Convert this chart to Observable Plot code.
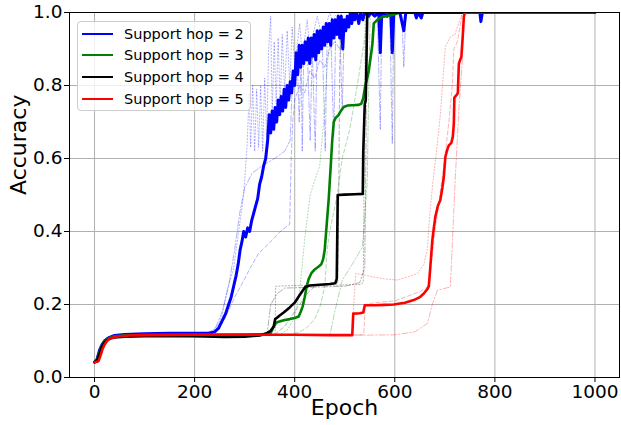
<!DOCTYPE html>
<html><head><meta charset="utf-8">
<script src="https://cdn.jsdelivr.net/npm/d3@7"></script>
<script src="https://cdn.jsdelivr.net/npm/@observablehq/plot@0.6"></script>
<style>
body{margin:0;background:#fff;font-family:"DejaVu Sans",sans-serif;}
#wrap{position:relative;width:621px;height:425px;}
#legend{position:absolute;left:77px;top:21px;width:174px;height:90px;border:1px solid #cccccc;border-radius:4px;background:rgba(255,255,255,0.8);box-sizing:border-box;}
.item{position:absolute;left:0;height:20px;width:170px;}
.item .sw{position:absolute;left:4px;top:9px;width:31px;height:0;border-top:2.6px solid;}
.item .lb{position:absolute;left:46px;top:0;font-size:14.5px;line-height:20px;color:#000;white-space:nowrap;}
</style>
</head><body>
<div id="wrap"><div id="chart"></div><div id="legend"></div></div>
<script>
// ---- data ----
const xTicks = [0, 200, 400, 600, 800, 1000];
const yTicks = [0, 0.2, 0.4, 0.6, 0.8, 1.0];
const legendLabels = ["Support hop = 2", "Support hop = 3", "Support hop = 4", "Support hop = 5"];
const colors = ["#0000ff", "#008000", "#000000", "#ff0000"];

const startRise = [[0,0.042],[5,0.046],[10,0.068],[15,0.086],[20,0.097],[25,0.103],[30,0.107],[40,0.111],[60,0.114],[100,0.116]];

// hop = 2 (blue)
const hop2Main = [[0,0.042],[5,0.05],[10,0.075],[15,0.09],[20,0.1],[25,0.106],[30,0.11],[40,0.115],[60,0.118],[100,0.12],[150,0.121],[200,0.121],[230,0.122],[240,0.125],[248,0.135],[255,0.155],[262,0.175],[268,0.2],[273,0.22],[278,0.25],[283,0.28],[287,0.31],[291,0.35],[295,0.375],[298,0.4],[302,0.385],[306,0.41],[310,0.4],[314,0.43],[318,0.45],[322,0.47],[326,0.49],[330,0.53],[334,0.55],[338,0.58],[342,0.6],[346,0.65],[349,0.72],[352,0.67],[355,0.73],[358,0.68],[361,0.74],[364,0.7],[367,0.76],[370,0.72],[373,0.77],[376,0.73],[379,0.79],[382,0.74],[385,0.8],[388,0.76],[391,0.81],[394,0.78],[397,0.84],[400,0.8],[403,0.89],[406,0.83],[409,0.91],[412,0.85],[415,0.91],[418,0.86],[421,0.92],[424,0.87],[427,0.93],[430,0.86],[433,0.93],[436,0.88],[439,0.94],[442,0.87],[445,0.95],[448,0.89],[451,0.95],[454,0.9],[457,0.96],[460,0.91],[463,0.97],[466,0.92],[469,0.97],[472,0.91],[475,0.98],[478,0.93],[481,0.98],[484,0.94],[487,0.99],[490,0.93],[493,0.99],[496,0.9],[499,0.98],[502,0.95],[505,0.99],[508,0.96],[511,1.0],[514,0.97],[517,1.0],[520,0.98],[524,1.0],[528,0.97],[532,1.0],[536,0.98],[540,1.0],[548,0.99],[552,1.0],[560,0.99],[568,1.0],[571,0.89],[574,1.0],[585,0.99],[592,1.0],[595,0.89],[598,1.0],[610,1.0],[618,0.95],[622,1.0],[640,1.0],[643,0.985],[646,1.0],[653,0.985],[656,1.0],[770,1.0],[772,0.975],[775,1.0],[1000,1.0]];
const hop2SeedA = [[200,0.121],[230,0.123],[245,0.14],[255,0.17],[265,0.24],[278,0.3],[290,0.42],[298,0.5],[305,0.64],[309,0.78],[312,0.63],[316,0.8],[320,0.62],[324,0.79],[328,0.63],[332,0.8],[336,0.62],[340,0.82],[344,0.66],[348,0.9],[352,0.99],[355,0.72],[359,0.92],[363,0.75],[367,0.93],[371,0.74],[375,0.94],[380,0.78],[385,0.95],[390,0.8],[395,0.96],[400,0.85],[410,0.97],[415,0.88],[425,0.98],[430,0.9],[445,0.99],[455,0.93],[470,1.0],[480,0.96],[490,1.0],[1000,1.0]];
const hop2SeedB = [[230,0.121],[245,0.13],[260,0.16],[280,0.22],[300,0.27],[311,0.3],[328,0.34],[355,0.376],[371,0.4],[390,0.42],[393,0.6],[396,0.7],[400,0.76],[410,0.8],[420,0.78],[430,0.84],[440,0.82],[450,0.87],[460,0.85],[470,0.9],[480,0.92],[490,0.9],[500,0.95],[510,0.97],[520,0.99],[535,1.0],[1000,1.0]];
const hop2SeedC = [[220,0.121],[240,0.13],[255,0.18],[268,0.25],[280,0.35],[290,0.45],[300,0.52],[315,0.56],[335,0.58],[360,0.6],[380,0.62],[391,0.65],[395,0.8],[400,0.86],[405,0.88],[409,0.7],[413,0.88],[415,0.62],[418,0.89],[425,0.9],[431,0.65],[435,0.91],[441,0.62],[445,0.92],[455,0.93],[461,0.62],[465,0.94],[472,0.95],[478,0.66],[482,0.95],[490,0.96],[495,0.73],[499,0.97],[510,0.98],[525,0.99],[545,1.0],[565,1.0],[571,0.68],[574,1.0],[590,1.0],[595,0.64],[598,1.0],[614,1.0],[618,0.85],[622,1.0],[1000,1.0]];

// hop = 3 (green)
const hop3Main = [[0,0.042],[5,0.048],[10,0.07],[15,0.088],[20,0.098],[25,0.104],[30,0.108],[40,0.113],[60,0.115],[100,0.116],[200,0.117],[300,0.118],[345,0.119],[352,0.122],[358,0.139],[363,0.15],[368,0.153],[378,0.157],[390,0.16],[400,0.163],[408,0.167],[412,0.18],[416,0.195],[420,0.22],[424,0.25],[428,0.27],[433,0.285],[440,0.296],[448,0.304],[453,0.31],[457,0.325],[460,0.35],[464,0.42],[468,0.49],[472,0.58],[475,0.65],[478,0.7],[482,0.712],[487,0.718],[492,0.73],[498,0.741],[505,0.745],[515,0.746],[528,0.747],[533,0.75],[537,0.765],[541,0.8],[545,0.82],[548,0.84],[552,0.88],[555,0.91],[558,0.97],[565,0.98],[575,0.988],[595,0.993],[610,1.0],[1000,1.0]];
const hop3SeedA = [[200,0.117],[370,0.118],[385,0.13],[398,0.16],[405,0.2],[411,0.25],[420,0.38],[431,0.5],[440,0.54],[450,0.58],[458,0.7],[465,0.85],[472,0.95],[480,0.99],[490,1.0],[1000,1.0]];
const hop3SeedB = [[200,0.116],[390,0.117],[410,0.125],[425,0.137],[440,0.16],[452,0.2],[460,0.25],[465,0.35],[470,0.4],[485,0.5],[495,0.6],[510,0.68],[525,0.8],[540,0.93],[548,1.0],[1000,1.0]];
const hop3SeedC = [[200,0.115],[465,0.117],[471,0.12],[480,0.18],[495,0.267],[515,0.31],[535,0.357],[538,0.4],[545,0.54],[548,0.8],[551,1.0],[1000,1.0]];

// hop = 4 (black)
const hop4Main = [[0,0.042],[5,0.046],[10,0.065],[15,0.085],[20,0.096],[25,0.102],[30,0.106],[40,0.11],[60,0.112],[100,0.113],[200,0.113],[260,0.111],[300,0.112],[330,0.115],[345,0.122],[352,0.128],[358,0.14],[361,0.16],[364,0.163],[370,0.17],[378,0.178],[390,0.192],[400,0.205],[411,0.228],[421,0.248],[430,0.252],[450,0.254],[470,0.256],[481,0.258],[484,0.27],[486,0.5],[500,0.501],[520,0.502],[536,0.503],[537,0.62],[540,0.75],[542,0.76],[545,1.0],[1000,1.0]];
const hop4SeedA = [[200,0.112],[300,0.113],[355,0.115],[361,0.12],[362,0.25],[400,0.252],[480,0.253],[531,0.255],[537,0.26],[539,0.6],[541,1.0],[1000,1.0]];
const hop4SeedB = [[200,0.112],[330,0.114],[360,0.118],[380,0.14],[395,0.17],[410,0.2],[425,0.23],[440,0.25],[470,0.255],[486,0.26],[488,0.5],[490,0.85],[493,1.0],[1000,1.0]];
const hop4SeedC = [[200,0.111],[320,0.113],[345,0.12],[352,0.2],[365,0.23],[380,0.245],[500,0.25],[530,0.26],[540,0.3],[545,1.0],[1000,1.0]];

// hop = 5 (red)
const hop5Main = [[0,0.042],[5,0.043],[8,0.045],[12,0.06],[16,0.078],[20,0.09],[25,0.1],[30,0.106],[40,0.111],[50,0.113],[70,0.115],[100,0.116],[200,0.117],[300,0.117],[400,0.117],[471,0.116],[515,0.116],[517,0.175],[530,0.176],[537,0.178],[540,0.198],[560,0.198],[580,0.199],[598,0.2],[620,0.205],[638,0.212],[650,0.22],[658,0.23],[665,0.242],[668,0.25],[671,0.303],[675,0.376],[678,0.41],[681,0.44],[686,0.47],[691,0.486],[695,0.52],[698,0.55],[701,0.604],[705,0.625],[708,0.636],[713,0.643],[716,0.66],[718,0.696],[719,0.767],[724,0.775],[726,0.78],[728,0.86],[731,0.872],[733,0.878],[736,0.94],[738,0.988],[740,1.0],[1000,1.0]];
const hop5SeedA = [[200,0.116],[515,0.117],[518,0.2],[522,0.285],[540,0.28],[560,0.275],[580,0.27],[605,0.267],[625,0.275],[645,0.285],[658,0.31],[665,0.35],[670,0.45],[675,0.52],[680,0.58],[685,0.64],[691,0.72],[698,0.85],[701,0.906],[711,0.933],[720,0.94],[735,1.0],[1000,1.0]];
const hop5SeedB = [[200,0.116],[538,0.117],[541,0.2],[560,0.205],[600,0.21],[630,0.225],[650,0.235],[665,0.248],[672,0.3],[680,0.4],[690,0.5],[700,0.6],[708,0.7],[715,0.8],[718,0.9],[725,0.92],[735,1.0],[1000,1.0]];
const hop5SeedC = [[200,0.116],[540,0.116],[600,0.117],[640,0.125],[665,0.148],[675,0.2],[685,0.239],[711,0.248],[715,0.368],[721,0.55],[728,0.732],[735,0.87],[738,1.0],[1000,1.0]];

// ---- chart ----
const mains = [hop2Main, hop3Main, hop4Main, hop5Main];
const seeds = [[hop2SeedA, hop2SeedB, hop2SeedC],[hop3SeedA, hop3SeedB, hop3SeedC],[hop4SeedA, hop4SeedB, hop4SeedC],[hop5SeedA, hop5SeedB, hop5SeedC]];
const dashes = ["1.2,2", "4,2.5", "6,2,1.5,2"];

const faintMarks = [];
seeds.forEach((group, i) => group.forEach((s, j) => {
  faintMarks.push(Plot.line(startRise.concat(s), {x: d => d[0], y: d => d[1], stroke: colors[i], strokeOpacity: 0.3, strokeWidth: 1, strokeDasharray: dashes[j], clip: true}));
}));
const mainMarks = mains.map((m, i) => Plot.line(m, {x: d => d[0], y: d => d[1], stroke: colors[i], strokeWidth: i === 0 ? 3 : 2.6, clip: true}));

const chart = Plot.plot({
  width: 621, height: 425,
  marginLeft: 69, marginRight: 2, marginTop: 12, marginBottom: 48,
  x: {domain: [-50, 1049]},
  y: {domain: [0, 1]},
  style: {fontFamily: "DejaVu Sans, sans-serif", background: "white", color: "black"},
  marks: [
    Plot.gridX(xTicks, {stroke: "#b0b0b0", strokeOpacity: 1, strokeWidth: 1}),
    Plot.gridY(yTicks, {stroke: "#b0b0b0", strokeOpacity: 1, strokeWidth: 1}),
    ...faintMarks,
    ...mainMarks,
    Plot.frame({stroke: "black", strokeWidth: 1}),
    Plot.axisX(xTicks, {tickSize: 5, tickPadding: 2, fontSize: 18.5, label: null, tickFormat: d => String(d)}),
    Plot.axisY(yTicks, {tickSize: 5, tickPadding: 2, fontSize: 18.5, label: null, tickFormat: d => d.toFixed(1)}),
    Plot.text(["Epoch"], {frameAnchor: "bottom", dy: 37, fontSize: 22, text: d => d}),
    Plot.text(["Accuracy"], {frameAnchor: "left", dx: -51, rotate: -90, fontSize: 22, text: d => d})
  ]
});
document.getElementById("chart").appendChild(chart);

const leg = document.getElementById("legend");
legendLabels.forEach((lab, i) => {
  const it = document.createElement("div");
  it.className = "item";
  it.style.top = (1.5 + i * 21.7) + "px";
  it.innerHTML = `<div class="sw" style="border-color:${colors[i]}"></div><div class="lb">${lab}</div>`;
  leg.appendChild(it);
});
</script>
</body></html>
